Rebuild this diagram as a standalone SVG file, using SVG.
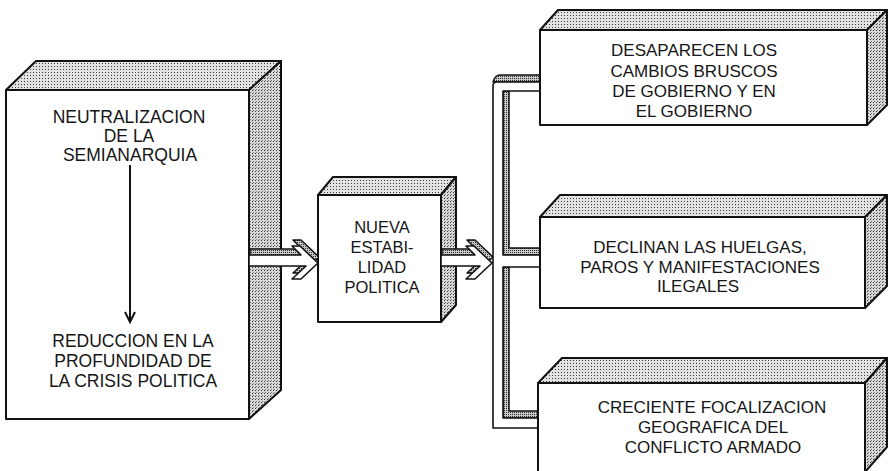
<svg xmlns="http://www.w3.org/2000/svg" width="891" height="471" viewBox="0 0 891 471">
<style>
.front{fill:#ffffff;stroke:#111;stroke-width:2;stroke-linejoin:round}
.face{fill:url(#dots);stroke:#111;stroke-width:2;stroke-linejoin:round}
.side{fill:url(#dots2);stroke:#111;stroke-width:2;stroke-linejoin:round}
.gray{fill:url(#dense);stroke:#111;stroke-width:1.5;stroke-linejoin:round}
.wire{fill:#fff;stroke:#111;stroke-width:1.6;stroke-linejoin:round}
.t{font-family:"Liberation Sans",Arial,sans-serif;fill:#151515;text-anchor:middle}
.big{font-size:17.5px}
.mid{font-size:16.5px}
.rt{font-size:17px}
</style>
<defs>
<pattern id="dots" width="3" height="3" patternUnits="userSpaceOnUse"><rect width="3" height="3" fill="#e2e2e2"/><rect width="1" height="1" fill="#3a3a3a"/></pattern>
<pattern id="dots2" width="3" height="3" patternUnits="userSpaceOnUse"><rect width="3" height="3" fill="#d8d8d8"/><rect width="1" height="1" fill="#333"/><rect x="1" y="2" width="1" height="1" fill="#777"/></pattern>
<pattern id="dense" width="2" height="2" patternUnits="userSpaceOnUse"><rect width="2" height="2" fill="#c8c8c8"/><rect width="1" height="1" fill="#2e2e2e"/></pattern>
<clipPath id="c1"><rect x="249" y="230" width="69" height="60"/></clipPath>
<clipPath id="c2"><rect x="441" y="230" width="52" height="60"/></clipPath>
</defs>

<g id="node-left">
<polygon class="face" points="6,90 36,61 281,61 249,90"/>
<polygon class="side" points="249,90 281,61 281,390 249,419"/>
<rect class="front" x="6" y="90" width="243" height="329"/>
<text class="t big" x="129" y="123">NEUTRALIZACION</text>
<text class="t big" x="129" y="142">DE LA</text>
<text class="t big" x="130" y="161">SEMIANARQUIA</text>
<text class="t big" x="133" y="347">REDUCCION EN LA</text>
<text class="t big" x="133" y="367">PROFUNDIDAD DE</text>
<text class="t big" x="133" y="387">LA CRISIS POLITICA</text>
</g>

<g id="node-middle">
<polygon class="face" points="318,195 333,177 456,177 441,195"/>
<polygon class="side" points="441,195 456,177 456,305 441,322"/>
<rect class="front" x="318" y="195" width="123" height="127"/>
<text class="t mid" x="382" y="233">NUEVA</text>
<text class="t mid" x="382" y="253">ESTABI-</text>
<text class="t mid" x="382" y="273">LIDAD</text>
<text class="t mid" x="382" y="293">POLITICA</text>
</g>

<g id="connectors">
<line x1="130" y1="165" x2="130" y2="321" stroke="#111" stroke-width="2"/>
<polyline points="125,312 130,322 135,312" fill="none" stroke="#111" stroke-width="2"/>
<g clip-path="url(#c1)"><path class="gray" transform="translate(1,-6)" d="M249,255 H301 L292,246 H300 L318,263 L301,279 H292 L306,266 H249 Z"/></g>
<path class="wire" d="M249,255 H301 L292,246 H300 L318,263 L301,279 H292 L306,266 H249 Z"/>
<g clip-path="url(#c2)"><path class="gray" transform="translate(1,-6)" d="M441,255 H475 L466,246 H474 L492,263 L475,279 H466 L480,266 H441 Z"/></g>
<path class="wire" d="M441,255 H475 L466,246 H474 L492,263 L475,279 H466 L480,266 H441 Z"/>
<path class="gray" d="M493,82 Q495,75 500,75 H540 V82 Z"/>
<path class="gray" d="M503,91 H509 V248 H540 V255 H503 Z"/>
<path class="gray" d="M503,267 H509 V411 H538 V418 H503 Z"/>
<path class="wire" d="M540,82 H497 Q493,82 493,86 V428 H538 V418 H503 V267 H540 V255 H503 V91 H540 Z"/>
</g>

<g id="node-top-right">
<polygon class="face" points="540,30 558,10 887,10 867,30"/>
<polygon class="side" points="867,30 887,10 887,105 867,125"/>
<rect class="front" x="540" y="30" width="327" height="95"/>
<text class="t rt" x="694" y="56">DESAPARECEN LOS</text>
<text class="t rt" x="694" y="77">CAMBIOS BRUSCOS</text>
<text class="t rt" x="694" y="97">DE GOBIERNO Y EN</text>
<text class="t rt" x="694" y="117">EL GOBIERNO</text>
</g>

<g id="node-mid-right">
<polygon class="face" points="540,217 560,195 887,195 865,217"/>
<polygon class="side" points="865,217 887,195 887,286 865,308"/>
<rect class="front" x="540" y="217" width="325" height="91"/>
<text class="t rt" x="700" y="253">DECLINAN LAS HUELGAS,</text>
<text class="t rt" x="700" y="273">PAROS Y MANIFESTACIONES</text>
<text class="t rt" x="698" y="292">ILEGALES</text>
</g>

<g id="node-bottom-right">
<polygon class="face" points="538,383 562,358 887,358 865,383"/>
<polygon class="side" points="865,383 887,358 887,447 865,472"/>
<rect class="front" x="538" y="383" width="327" height="95"/>
<text class="t rt" x="712" y="413">CRECIENTE FOCALIZACION</text>
<text class="t rt" x="713" y="433">GEOGRAFICA DEL</text>
<text class="t rt" x="713" y="453">CONFLICTO ARMADO</text>
</g>
</svg>
